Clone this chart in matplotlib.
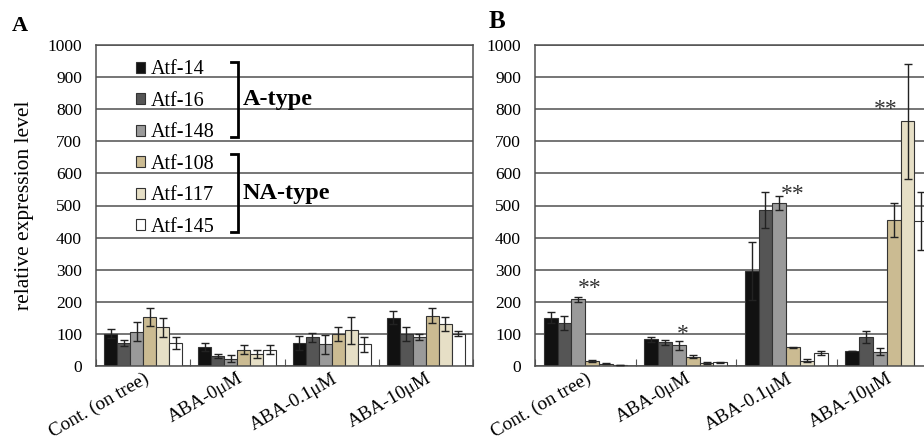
import numpy as np
import matplotlib
matplotlib.use('Agg')
from matplotlib import pyplot as plt
from matplotlib.patches import Patch

plt.rcParams['font.family'] = ['Liberation Serif', 'DejaVu Serif']

categories = ['Cont. (on tree)', 'ABA-0\u03bcM', 'ABA-0.1\u03bcM', 'ABA-10\u03bcM']
genes = ['Atf-14', 'Atf-16', 'Atf-148', 'Atf-108', 'Atf-117', 'Atf-145']
colors = ['#111111', '#555555', '#9a9a9a', '#cbbb92', '#e6dfc6', '#ffffff']

# panel A: rows = genes, columns = categories
a_vals = [[100, 60, 71, 151],
          [71, 31, 89, 99],
          [107, 23, 67, 91],
          [152, 51, 99, 157],
          [120, 37, 112, 131],
          [71, 51, 67, 101]]
a_errs = [[14, 13, 22, 19],
          [10, 5, 13, 21],
          [30, 11, 30, 10],
          [28, 13, 21, 23],
          [30, 12, 42, 23],
          [18, 13, 22, 8]]

# panel B
b_vals = [[150, 83, 296, 48],
          [134, 74, 486, 91],
          [208, 64, 509, 45],
          [16, 29, 58, 455],
          [7, 10, 17, 762],
          [3, 12, 40, 451]]
b_errs = [[17, 7, 89, 0],
          [23, 8, 55, 18],
          [8, 14, 22, 10],
          [3, 5, 2, 54],
          [2, 3, 6, 178],
          [1, 2, 7, 90]]

# significance marks: (category index, x offset in group, value, text)
b_stars = [(0, 0.04, 262, '**'), (1, -0.03, 120, '*'),
           (2, 0.06, 555, '**'), (3, -0.01, 822, '**')]

W, H = 924, 442
fig = plt.figure(figsize=(W / 100, H / 100), dpi=100)


def px_axes(x0, x1, y0, y1):
    return fig.add_axes([x0 / W, 1 - y1 / H, (x1 - x0) / W, (y1 - y0) / H])


def draw_panel(ax, vals, errs, right_spine=True):
    n = len(categories)
    x = np.arange(n)
    bw = 0.138
    for i, g in enumerate(genes):
        offs = x + (i - 2.5) * bw
        ax.bar(offs, vals[i], bw, color=colors[i], edgecolor='#333333',
               linewidth=0.8, label=g, zorder=2)
        ax.errorbar(offs, vals[i], yerr=errs[i], fmt='none', ecolor='#222222',
                    elinewidth=1.0, capsize=3, capthick=1.0, zorder=3)
    ax.set_xlim(-0.5, n - 0.5)
    ax.set_ylim(0, 1000)
    ax.set_yticks(range(0, 1001, 100))
    ax.yaxis.grid(True, color='#4f4f4f', linewidth=1.1, zorder=0)
    ax.set_axisbelow(True)
    ax.tick_params(axis='y', length=0, labelsize=12.5, pad=10)
    ax.set_xticks(np.arange(n + 1) - 0.5)
    ax.set_xticklabels([])
    ax.tick_params(axis='x', which='major', direction='in', length=5,
                   color='#555555')
    ax.set_xticks(x, minor=True)
    ax.set_xticklabels(categories, minor=True, rotation=30, ha='right',
                       rotation_mode='anchor', fontsize=13.8)
    ax.tick_params(axis='x', which='minor', length=0, pad=3)
    for s in ['left', 'bottom', 'top', 'right']:
        ax.spines[s].set_color('#4f4f4f')
        ax.spines[s].set_linewidth(1.1)
    ax.spines['right'].set_visible(right_spine)


axA = px_axes(96, 473, 45, 366)
draw_panel(axA, a_vals, a_errs)
axA.set_ylabel('relative expression level', fontsize=15.5, labelpad=10)

handles = [Patch(facecolor=c, edgecolor='#333333', linewidth=0.8) for c in colors]
axA.legend(handles, genes, loc='upper left', bbox_to_anchor=(0.105, 0.952),
           frameon=False, fontsize=14.5, handlelength=0.45, handleheight=0.45,
           handletextpad=0.3, labelspacing=0.62, borderpad=0, borderaxespad=0)

# group brackets
for y0, y1, label in [(0.947, 0.713, 'A-type'), (0.660, 0.417, 'NA-type')]:
    axA.plot([0.358, 0.377, 0.377, 0.358], [y0, y0, y1, y1], color='black',
             linewidth=2, transform=axA.transAxes, solid_joinstyle='miter',
             zorder=5)
    axA.text(0.39, (y0 + y1) / 2, label, transform=axA.transAxes,
             fontsize=17.5, fontweight='bold', va='center', ha='left')

axB = px_axes(535, 937, 45, 366)
draw_panel(axB, b_vals, b_errs, right_spine=False)
for k, dx, v, t in b_stars:
    axB.text(k + dx, v - 22, t, fontsize=17, ha='center', va='center',
             color='#333333')

fig.text(12 / W, 1 - 26 / H, 'A', fontsize=16, fontweight='bold',
         va='center', ha='left')
fig.text(489 / W, 1 - 22 / H, 'B', fontsize=18, fontweight='bold',
         va='center', ha='left')

fig.savefig('out.png', dpi=100)
